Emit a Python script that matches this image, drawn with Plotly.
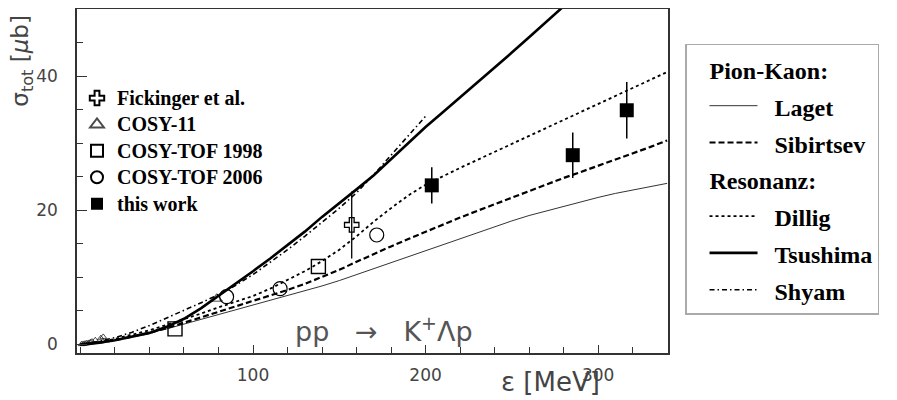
import plotly.graph_objects as go

# ---------------- data ----------------
eps_grid = [0, 10, 20, 30, 40, 50, 60, 70, 80, 90, 100, 110, 120, 130, 140, 150, 160, 170,
            180, 190, 200, 210, 220, 230, 240, 250, 260, 270, 280, 290, 300, 310, 320, 330, 340]
laget = [0, 0.2, 0.6, 1.1, 1.7, 2.3, 3.0, 3.7, 4.4, 5.1, 5.8, 6.5, 7.2, 7.9, 8.7, 9.5, 10.4, 11.3,
         12.2, 13.1, 14.0, 14.9, 15.8, 16.7, 17.6, 18.4, 19.2, 19.9, 20.6, 21.3, 21.9, 22.5, 23.0, 23.5, 24.0]
sibirtsev = [0, 0.2, 0.6, 1.1, 1.7, 2.4, 3.2, 4.0, 4.8, 5.6, 6.4, 7.2, 8.1, 9.0, 10.0, 11.1, 12.3, 13.5,
             14.6, 15.7, 16.8, 17.8, 18.9, 19.9, 20.9, 21.9, 22.9, 23.8, 24.8, 25.7, 26.6, 27.6, 28.5, 29.4, 30.4]
dillig = [0, 0.3, 0.8, 1.4, 2.1, 2.9, 3.7, 4.6, 5.5, 6.3, 7.2, 8.3, 9.6, 10.9, 12.4, 14.1, 16.1, 18.3,
          20.3, 22.2, 23.8, 25.1, 26.3, 27.5, 28.7, 29.9, 31.1, 32.3, 33.5, 34.7, 35.9, 37.1, 38.3, 39.5, 40.6]
tsushima_eps = [0, 10, 20, 30, 40, 50, 60, 70, 80, 90, 100, 110, 120, 130, 140, 150, 160, 170,
                180, 190, 200, 210, 220, 230, 240, 250, 260, 270, 280]
tsushima = [0, 0.2, 0.6, 1.1, 1.7, 2.6, 3.8, 5.4, 7.2, 9.0, 10.9, 12.8, 14.8, 16.8, 19.0, 21.0, 23.1, 25.2,
            27.6, 30.0, 32.4, 34.6, 36.8, 39.0, 41.2, 43.5, 45.8, 48.1, 50.4]
shyam_eps = [0, 10, 20, 30, 40, 50, 60, 70, 80, 90, 100, 110, 120, 130, 140, 150, 160, 170, 180, 190, 200]
shyam = [0, 0.4, 1.0, 1.8, 2.8, 3.9, 5.0, 6.2, 7.4, 8.8, 10.4, 12.2, 14.1, 16.1, 18.2, 20.3, 22.6, 25.3,
         28.2, 31.1, 34.0]

fick_eps = [157.2]
fick_sig = [17.8]
fick_err = [5.0]
cosy11_eps = [79.0, 0.7, 1.7, 2.7, 3.7, 4.7, 5.7, 6.7, 8.6, 11.8, 13.2]
cosy11_sig = [6.8, 0.02, 0.05, 0.1, 0.15, 0.2, 0.3, 0.4, 0.6, 0.9, 1.1]
cosy11_size = [10, 6, 6, 6, 6, 6, 6, 6, 6, 6, 6]
tof98_eps = [54.8, 137.9]
tof98_sig = [2.3, 11.6]
tof06_eps = [84.7, 115.7, 171.7]
tof06_sig = [7.1, 8.3, 16.3]
work_eps = [203.6, 285.3, 316.6]
work_sig = [23.7, 28.2, 34.9]
work_err = [2.7, 3.4, 4.2]

x_ticks = [100, 200, 300]
y_ticks = [0, 20, 40]

SERIF = "Liberation Serif"
SANS = "DejaVu Sans"
GREY = "#444444"
NB = "\u00a0"


def leg1(t):
    return '<b><span style="font-size:20px">%s</span></b>' % t


def leg2(t, pre=2):
    return '<b><span style="font-size:24px">%s%s</span></b>' % (NB * pre, t)


fig = go.Figure()

# ---------------- theory curves ----------------
fig.add_trace(go.Scatter(x=eps_grid, y=laget, mode="lines", name=leg2("Laget"),
                         line=dict(color="#333333", width=1), legend="legend2",
                         legendgroup="pk",
                         legendgrouptitle=dict(text=leg2("Pion-Kaon:", 3),
                                               font=dict(size=26, family=SERIF, color="black"))))
fig.add_trace(go.Scatter(x=eps_grid, y=sibirtsev, mode="lines", name=leg2("Sibirtsev"),
                         line=dict(color="black", width=2.2, dash="6px,3px"), legend="legend2",
                         legendgroup="pk"))
fig.add_trace(go.Scatter(x=eps_grid, y=dillig, mode="lines", name=leg2("Dillig"),
                         line=dict(color="black", width=1.8, dash="dot"), legend="legend2",
                         legendgroup="res",
                         legendgrouptitle=dict(text=leg2("Resonanz:", 3),
                                               font=dict(size=26, family=SERIF, color="black"))))
fig.add_trace(go.Scatter(x=tsushima_eps, y=tsushima, mode="lines", name=leg2("Tsushima"),
                         line=dict(color="black", width=2.6), legend="legend2",
                         legendgroup="res"))
fig.add_trace(go.Scatter(x=shyam_eps, y=shyam, mode="lines", name=leg2("Shyam"),
                         line=dict(color="black", width=1.6, dash="5px,3px,1.5px,3px"),
                         legend="legend2", legendgroup="res"))

# ---------------- data points ----------------
fig.add_trace(go.Scatter(x=fick_eps, y=fick_sig, mode="markers", name=leg1("Fickinger et al."),
                         marker=dict(symbol="cross-open", size=12, color="black",
                                     line=dict(color="black", width=1.3)),
                         error_y=dict(type="data", array=fick_err, width=0, thickness=1.3,
                                      color="black")))
fig.add_trace(go.Scatter(x=cosy11_eps, y=cosy11_sig, mode="markers", name=leg1("COSY-11"),
                         marker=dict(symbol="triangle-up-open", size=cosy11_size, color="black",
                                     line=dict(color="black", width=1))))
fig.add_trace(go.Scatter(x=tof98_eps, y=tof98_sig, mode="markers", name=leg1("COSY-TOF 1998"),
                         marker=dict(symbol="square-open", size=14, color="black",
                                     line=dict(color="black", width=1.4))))
fig.add_trace(go.Scatter(x=tof06_eps, y=tof06_sig, mode="markers", name=leg1("COSY-TOF 2006"),
                         marker=dict(symbol="circle-open", size=14, color="black",
                                     line=dict(color="black", width=1.2))))
fig.add_trace(go.Scatter(x=work_eps, y=work_sig, mode="markers", name=leg1("this work"),
                         marker=dict(symbol="square", size=14, color="black"),
                         error_y=dict(type="data", array=work_err, width=0, thickness=1.5,
                                      color="black")))

axis_common = dict(showline=True, linecolor="#333333", linewidth=1.5, mirror=True,
                   showgrid=False, zeroline=False, ticks="inside", tickcolor="#333333",
                   tickwidth=1.2, tickfont=dict(family=SANS, size=17, color=GREY))

# the page adds an 8px body margin, so the figure is 8px smaller than the window
fig.update_layout(
    width=889, height=392,
    margin=dict(l=69, r=229, t=1, b=47, autoexpand=False),
    paper_bgcolor="white", plot_bgcolor="white",
    xaxis=dict(range=[-2, 340.5], tickvals=x_ticks, ticklen=8, ticklabelstandoff=6,
               minor=dict(dtick=20, tick0=0, ticks="inside", ticklen=6, tickcolor="#333333"),
               **axis_common),
    yaxis=dict(range=[-1.3, 50], tickvals=y_ticks, ticklen=10, ticklabelstandoff=14,
               minor=dict(dtick=5, tick0=0, ticks="inside", ticklen=6, tickcolor="#333333"),
               **axis_common),
    legend=dict(x=0.0, xanchor="left", y=0.794, yanchor="top",
                bgcolor="rgba(0,0,0,0)", borderwidth=0, itemsizing="constant",
                font=dict(family=SERIF, size=18, color="black"), tracegroupgap=0),
    legend2=dict(x=1.0288, xanchor="left", y=0.8983, yanchor="top",
                 bgcolor="white", bordercolor="#aaaaaa", borderwidth=1.5,
                 itemwidth=48, indentation=18, traceorder="grouped", tracegroupgap=0,
                 font=dict(family=SERIF, size=26, color="black")),
    annotations=[
        dict(text="σ<sub>tot</sub> [<i>μ</i>b]", xref="paper", yref="paper",
             x=-0.093, y=0.85, textangle=-90, showarrow=False,
             xanchor="center", yanchor="middle",
             font=dict(family=SANS, size=23, color=GREY)),
        dict(text="ε [MeV]", xref="paper", yref="paper", x=0.802, y=-0.084,
             xanchor="center", yanchor="middle", showarrow=False,
             font=dict(family=SANS, size=26, color=GREY)),
        dict(text="pp" + NB * 3 + "→" + NB * 3 + "K<sup>+</sup>Λp", xref="paper", yref="paper",
             x=0.519, y=0.067, xanchor="center", yanchor="middle", showarrow=False,
             font=dict(family=SANS, size=27, color="#555555")),
    ],
)

fig.write_html("out.html")
